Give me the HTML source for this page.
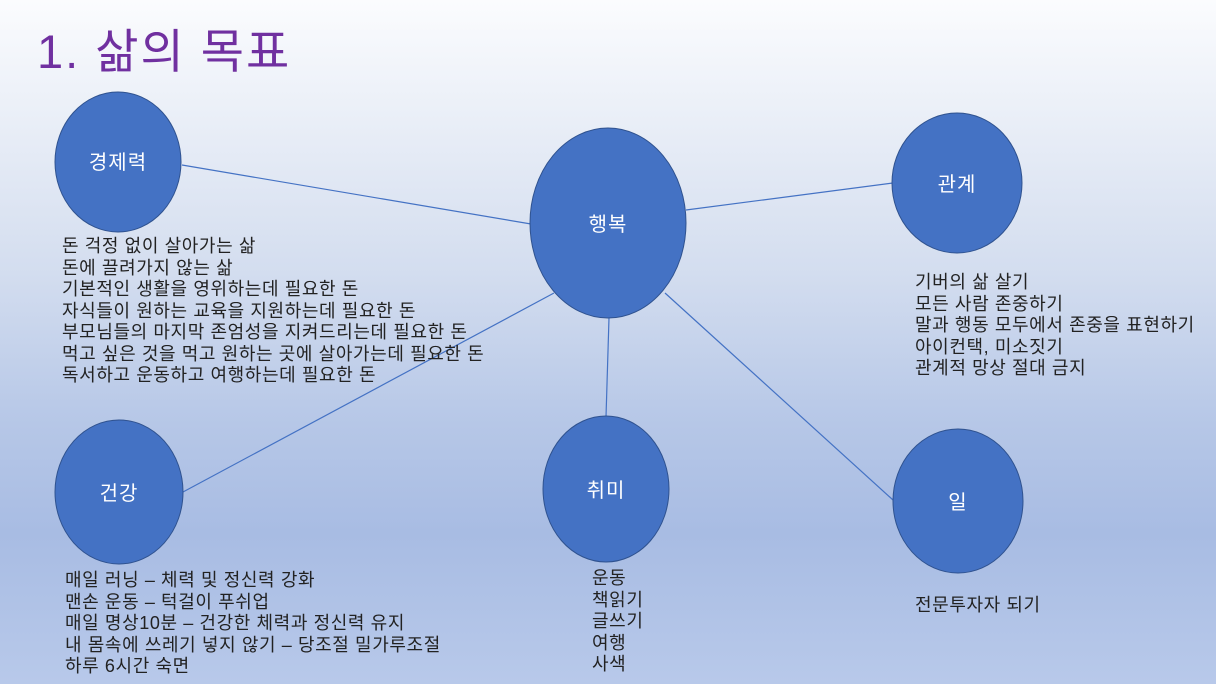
<!DOCTYPE html>
<html><head><meta charset="utf-8"><style>
html,body{margin:0;padding:0}
body{width:1216px;height:684px;position:relative;overflow:hidden;
background:linear-gradient(180deg,#fbfcfe 0%,#e9eef7 18%,#d3ddef 40%,#b6c7e7 62%,#a8bce3 78%,#b8c9ea 100%);
font-family:"Liberation Sans","Noto Sans CJK KR","NanumGothic",sans-serif;}
.t{position:absolute;color:#222;font-size:18px;letter-spacing:0.6px;line-height:21.5px;white-space:nowrap}
h1{position:absolute;left:37px;top:24px;margin:0;font-weight:normal;font-size:47px;color:#7030a0;line-height:56px;letter-spacing:2px}
svg{position:absolute;left:0;top:0}
</style></head><body>
<h1>1. 삶의 목표</h1>
<svg width="1216" height="684">
<g stroke="#4472c4" stroke-width="1.2">
<line x1="182" y1="165" x2="531" y2="224"/>
<line x1="686" y1="210" x2="893" y2="183"/>
<line x1="554" y1="293" x2="183" y2="492"/>
<line x1="609" y1="318" x2="606" y2="417"/>
<line x1="665" y1="293" x2="893" y2="500"/>
</g>
<g fill="#4472c4" stroke="#2f528f" stroke-width="1">
<ellipse cx="118" cy="162" rx="63" ry="70"/>
<ellipse cx="608" cy="223" rx="78" ry="95"/>
<ellipse cx="957" cy="183" rx="65" ry="70"/>
<ellipse cx="119" cy="492" rx="64" ry="72"/>
<ellipse cx="606" cy="489" rx="63" ry="73"/>
<ellipse cx="958" cy="501" rx="65" ry="72"/>
</g>
<g fill="#fff" font-family="Liberation Sans, Noto Sans CJK KR, sans-serif" font-size="20" letter-spacing="1" text-anchor="middle">
<text x="118" y="169">경제력</text>
<text x="608" y="231">행복</text>
<text x="957" y="191">관계</text>
<text x="119" y="500">건강</text>
<text x="606" y="497">취미</text>
<text x="958" y="509">일</text>
</g>
</svg>
<div class="t" style="left:62px;top:236px">돈 걱정 없이 살아가는 삶<br>돈에 끌려가지 않는 삶<br>기본적인 생활을 영위하는데 필요한 돈<br>자식들이 원하는 교육을 지원하는데 필요한 돈<br>부모님들의 마지막 존엄성을 지켜드리는데 필요한 돈<br>먹고 싶은 것을 먹고 원하는 곳에 살아가는데 필요한 돈<br>독서하고 운동하고 여행하는데 필요한 돈</div>
<div class="t" style="left:915px;top:272px">기버의 삶 살기<br>모든 사람 존중하기<br>말과 행동 모두에서 존중을 표현하기<br>아이컨택, 미소짓기<br>관계적 망상 절대 금지</div>
<div class="t" style="left:65px;top:570px">매일 러닝 – 체력 및 정신력 강화<br>맨손 운동 – 턱걸이 푸쉬업<br>매일 명상10분 – 건강한 체력과 정신력 유지<br>내 몸속에 쓰레기 넣지 않기 – 당조절 밀가루조절<br>하루 6시간 숙면</div>
<div class="t" style="left:592px;top:568px">운동<br>책읽기<br>글쓰기<br>여행<br>사색</div>
<div class="t" style="left:915px;top:595px">전문투자자 되기</div>
</body></html>
